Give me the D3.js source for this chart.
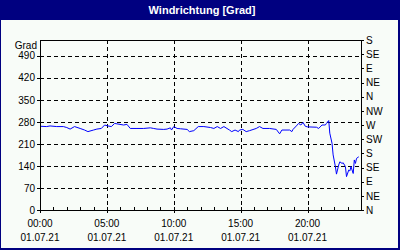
<!DOCTYPE html>
<html>
<head>
<meta charset="utf-8">
<script src="https://cdn.jsdelivr.net/npm/d3@7"></script>
<style>
html, body { margin: 0; padding: 0; background: #fff; }
svg { display: block; }
text { font-family: "Liberation Sans", Arial, sans-serif; }
</style>
</head>
<body>
<svg id="chart" width="400" height="250"></svg>
<script>
// --- data (time of day, wind direction in degrees)
const times = [
  "00:00","00:30","00:45","01:15","01:45","02:00","02:15","02:35","03:00","03:20",
  "03:35","04:00","04:15","04:35","04:50","05:05","05:20","05:35","05:50","06:15",
  "06:30","06:45","07:15","07:45","08:15","08:30","08:45","09:15","09:30","09:45",
  "09:50","10:00","10:15","10:30","11:00","11:10","11:30","11:50","12:15","12:45",
  "13:00","13:15","13:30","13:45","14:10","14:20","14:35","14:50","14:55","15:10",
  "15:25","15:40","16:10","16:25","16:40","17:10","17:40","17:55","18:05","18:40",
  "18:50","18:55","19:10","19:20","19:30","19:40","19:50","20:00","20:40","20:50",
  "21:05","21:20","21:25","21:35","21:37","21:40","21:50","21:55","22:05","22:10",
  "22:20","22:25","22:35","22:40","22:50","22:55","23:05","23:10","23:15","23:25",
  "23:30","23:35","23:40","23:50"
];
const direction = [
  266,265,267,265,265,262,257,265,259,254,
  249,254,257,259,270,267,265,275,273,270,
  272,259,259,259,261,259,257,256,257,261,
  254,265,259,258,256,249,252,265,265,262,
  259,265,259,265,254,249,254,249,254,256,
  249,252,259,265,259,259,256,242,254,254,
  249,256,267,275,270,278,266,264,263,259,
  270,270,275,284,270,244,212,175,138,114,
  143,153,148,150,138,106,127,124,138,116,
  159,148,164,169
];
const gradTicks = [0, 70, 140, 210, 280, 350, 420, 490];
const compassTicks = [0, 45, 90, 135, 180, 225, 270, 315, 360, 405, 450, 495, 540];
const compassLabels = ["N","NE","E","SE","S","SW","W","NW","N","NE","E","SE","S"];
const hourTicks = [0, 5, 10, 15, 20];
const timeLabels = ["00:00", "05:00", "10:00", "15:00", "20:00"];
const dateLabel = "01.07.21";
const title = "Windrichtung [Grad]";
const unit = "Grad";

// --- frame
const svg = d3.select('#chart');
const W = 400, H = 250;
const m = { left: 40, right: 361, top: 40, bottom: 210 };

svg.append('rect').attr('width', W).attr('height', H).attr('fill', '#000080');
svg.append('rect').attr('x', 1).attr('y', 20).attr('width', W - 3).attr('height', H - 22)
  .attr('fill', '#f8fcf8');
svg.append('text').attr('x', 202).attr('y', 14)
  .attr('text-anchor', 'middle').attr('fill', '#fff')
  .attr('font-size', 11).attr('font-weight', 'bold')
  .text(title);

const toHours = s => { const [h, mm] = s.split(':').map(Number); return h + mm / 60; };
const data = times.map((t, i) => ({ h: toHours(t), v: direction[i] }));

const x = d3.scaleLinear().domain([0, 24]).range([m.left, m.right]);
const y = d3.scaleLinear().domain([0, 540]).range([m.bottom, m.top]);
const y2 = d3.scaleLinear().domain([0, 540]).range([m.bottom, m.top]);

// grid (dashed)
const grid = svg.append('g').attr('stroke', '#000').attr('stroke-dasharray', '4,3')
  .attr('shape-rendering', 'crispEdges');
grid.selectAll('line.h').data(gradTicks.filter(d => d > 0)).join('line')
  .attr('class', 'h')
  .attr('x1', m.left).attr('x2', m.right)
  .attr('y1', d => Math.round(y(d)) + 0.5).attr('y2', d => Math.round(y(d)) + 0.5);
grid.selectAll('line.v').data(hourTicks.filter(d => d > 0)).join('line')
  .attr('class', 'v')
  .attr('y1', m.top).attr('y2', m.bottom)
  .attr('x1', d => Math.round(x(d)) + 0.5).attr('x2', d => Math.round(x(d)) + 0.5);

// data line
svg.append('path').datum(data)
  .attr('fill', 'none').attr('stroke', '#0000ff').attr('stroke-width', 1)
  .attr('d', d3.line().x(d => x(d.h)).y(d => y(d.v)));

// plot box
svg.append('rect')
  .attr('x', m.left + 0.5).attr('y', m.top + 0.5)
  .attr('width', m.right - m.left).attr('height', m.bottom - m.top)
  .attr('fill', 'none').attr('stroke', '#000').attr('shape-rendering', 'crispEdges');

// left axis
const yAxis = svg.append('g').attr('transform', `translate(${m.left},0)`)
  .call(d3.axisLeft(y).tickValues(gradTicks).tickSize(3).tickPadding(2));
yAxis.select('.domain').remove();

svg.append('text').attr('x', 37).attr('y', 49).attr('text-anchor', 'end')
  .attr('font-size', 10).attr('fill', '#000').text(unit);

// right axis
const yAxis2 = svg.append('g').attr('transform', `translate(${m.right},0)`)
  .call(d3.axisRight(y2).tickValues(compassTicks).tickSize(3).tickPadding(2)
    .tickFormat((d, i) => compassLabels[i]));
yAxis2.select('.domain').remove();

// bottom axis: hourly minor ticks pointing up, 5 h major ticks across
const xg = svg.append('g').attr('stroke', '#000').attr('shape-rendering', 'crispEdges');
xg.selectAll('line.minor').data(d3.range(1, 24)).join('line')
  .attr('x1', d => Math.round(x(d)) + 0.5).attr('x2', d => Math.round(x(d)) + 0.5)
  .attr('y1', m.bottom - 3).attr('y2', m.bottom);
xg.selectAll('line.major').data(hourTicks).join('line')
  .attr('x1', d => Math.round(x(d)) + 0.5).attr('x2', d => Math.round(x(d)) + 0.5)
  .attr('y1', m.bottom - 3).attr('y2', m.bottom + 3);

const xl = svg.append('g').attr('font-size', 10).attr('text-anchor', 'middle').attr('fill', '#000');
xl.selectAll('text.t').data(hourTicks).join('text')
  .attr('x', d => x(d)).attr('y', 227).text((d, i) => timeLabels[i]);
xl.selectAll('text.d').data(hourTicks).join('text')
  .attr('x', d => x(d)).attr('y', 241).text(dateLabel);

svg.selectAll('.tick text').attr('font-size', 10).attr('font-family', '"Liberation Sans", Arial, sans-serif').attr('fill', '#000');
svg.selectAll('.tick line').attr('shape-rendering', 'crispEdges');
</script>
</body>
</html>
